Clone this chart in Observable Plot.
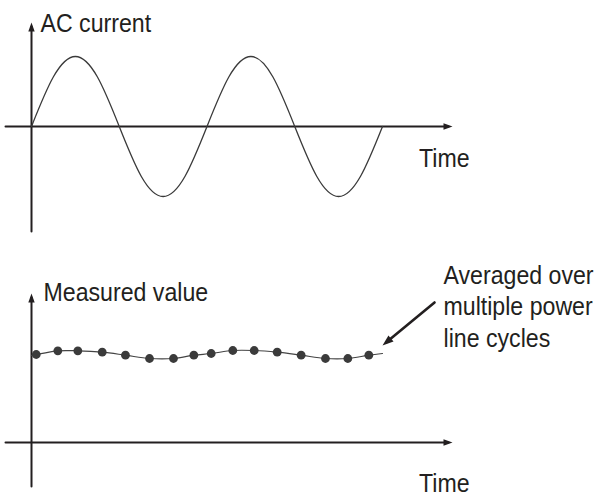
<!DOCTYPE html>
<html>
<head>
<meta charset="utf-8">
<script src="https://cdn.jsdelivr.net/npm/d3@7"></script>
<script src="https://cdn.jsdelivr.net/npm/@observablehq/plot@0.6"></script>
<style>
  html, body { margin: 0; padding: 0; background: #fff; }
  #chart { width: 600px; height: 493px; }
  #chart svg { display: block; }
</style>
</head>
<body>
<div id="chart"></div>
<script>
// ---- Data (time in ms, 50 Hz power line => 20 ms per cycle) ----
const sineTimes  = [0, 2.5, 5, 7.5, 10, 12.5, 15, 17.5, 20, 22.5, 25, 27.5, 30, 32.5, 35, 37.5, 40];
const sineValues = [0, 0.71, 1, 0.71, 0, -0.71, -1, -0.71, 0, 0.71, 1, 0.71, 0, -0.71, -1, -0.71, 0];

const measuredTimes  = [0.54, 3.0, 5.28, 8.06, 10.71, 13.45, 16.18, 18.5, 20.48, 22.94, 25.38, 28.0, 30.73, 33.5, 36.05, 38.44];
const measuredValues = [88, 91.7, 91.7, 90.3, 87.3, 84, 84, 87.3, 89, 92, 92, 90.3, 87.3, 84, 84, 87.3];
const traceStart = {t: 0, v: 87};
const traceEnd   = {t: 40, v: 89};

const topYLabel = "AC current";
const bottomYLabel = "Measured value";
const xLabel = "Time";
const noteText = "Averaged over\nmultiple power\nline cycles";

// ---- Styling / layout ----
const W = 600;
const FONT = "'Liberation Sans', Arial, sans-serif";
const CONDENSE = 0.89; // the reference uses a condensed face
const INK = "#231f20";
const FS = 26;
const xScale = {domain: [0, 40], range: [31, 382], axis: null};
const xAxisExtent = [-2.96, 47.98];

const sine = sineTimes.map((t, i) => ({t, v: sineValues[i]}));
const measured = measuredTimes.map((t, i) => ({t, v: measuredValues[i]}));
const trace = [traceStart, ...measured, traceEnd];

function axisMarks(yMin, yMax, yZero) {
  return [
    Plot.arrow([{}], {x1: xAxisExtent[0], x2: xAxisExtent[1], y1: yZero, y2: yZero,
      stroke: INK, strokeWidth: 2, headLength: 0, insetEnd: 4}),
    Plot.vector([{t: xAxisExtent[1], v: yZero}], {x: "t", y: "v", shape: "spike",
      length: 9, r: 3.2, rotate: 90, anchor: "end", fill: INK, stroke: "none"}),
    Plot.arrow([{}], {x1: 0, x2: 0, y1: yMin, y2: yMax,
      stroke: INK, strokeWidth: 2, headLength: 0, insetEnd: 4}),
    Plot.vector([{t: 0, v: yMax}], {x: "t", y: "v", shape: "spike",
      length: 9, r: 3.2, rotate: 0, anchor: "end", fill: INK, stroke: "none"})
  ];
}

const textStyle = {textAnchor: "start", lineAnchor: "top", fontSize: FS, fill: INK, fontFamily: FONT};

const topPlot = Plot.plot({
  width: W, height: 245,
  margin: 0,
  x: xScale,
  y: {domain: [-1, 1], range: [196, 56], axis: null},
  style: {background: "white", overflow: "visible"},
  marks: [
    ...axisMarks(-1.5, 1.486, 0),
    Plot.line(sine, {x: "t", y: "v", curve: "natural", stroke: "#3a3a3a", strokeWidth: 1.3}),
    Plot.text([topYLabel], {x: () => 1.03, y: () => 1.62, text: d => d, ...textStyle}),
    Plot.text([xLabel], {x: () => 44.16, y: () => -0.314, text: d => d, ...textStyle})
  ]
});

const bottomPlot = Plot.plot({
  width: W, height: 248,
  margin: 0,
  x: xScale,
  y: {domain: [0, 100], range: [197, 97], axis: null},
  style: {background: "white", overflow: "visible"},
  marks: [
    ...axisMarks(-44, 149, 0),
    Plot.line(trace, {x: "t", y: "v", curve: "catmull-rom", stroke: "#444", strokeWidth: 1.2}),
    Plot.dot(measured, {x: "t", y: "v", r: 4.4, fill: "#3b3b3b", stroke: "none"}),
    Plot.arrow([{}], {x1: 45.93, y1: 140, x2: 40.0, y2: 97,
      stroke: INK, strokeWidth: 2.6, headLength: 0, insetEnd: 5}),
    Plot.vector([{t: 40.0, v: 97}], {x: "t", y: "v", shape: "spike",
      length: 11, r: 4, rotate: -129.6, anchor: "end", fill: INK, stroke: "none"}),
    Plot.text([bottomYLabel], {x: () => 1.37, y: () => 160, text: d => d, ...textStyle}),
    Plot.text([xLabel], {x: () => 44.16, y: () => -31, text: d => d, ...textStyle}),
    Plot.text([noteText], {x: () => 46.95, y: () => 181, text: d => d, lineHeight: 1.21, ...textStyle})
  ]
});

const chart = document.getElementById("chart");
chart.appendChild(topPlot);
chart.appendChild(bottomPlot);

// Horizontally condense the label glyphs around their anchor point
// (scale only affects x; Plot's em-based y offsets stay intact)
chart.querySelectorAll('g[aria-label="text"] text').forEach(el => {
  const tr = el.getAttribute("transform") || "";
  el.setAttribute("transform", `${tr} scale(${CONDENSE},1)`);
});
</script>
</body>
</html>
